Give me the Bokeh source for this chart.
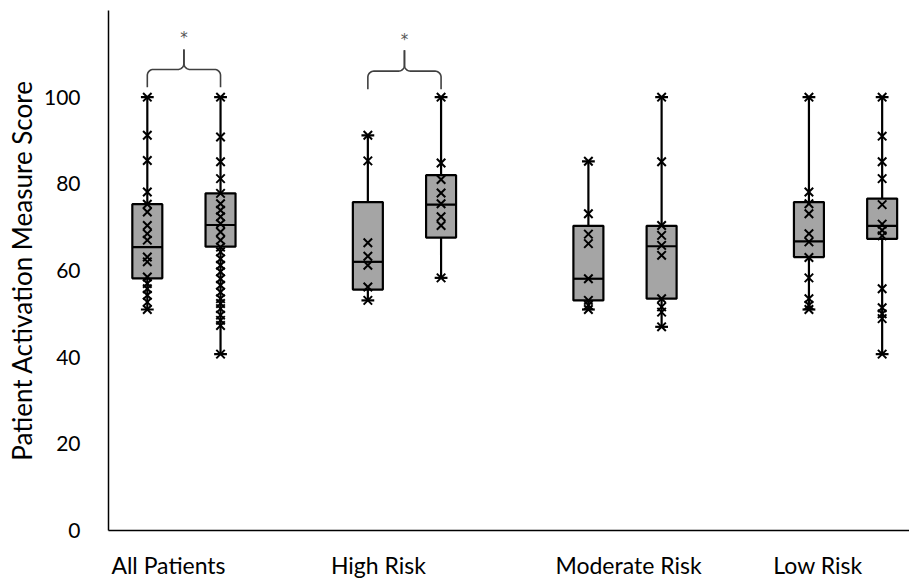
from bokeh.plotting import figure
from bokeh.models import Range1d, FixedTicker
from bokeh.core.properties import value
from bokeh.embed import file_html
from bokeh.resources import INLINE
import numpy as np

# ---------------- data ----------------
categories = ["All Patients", "High Risk", "Moderate Risk", "Low Risk"]
y_ticks = [0, 20, 40, 60, 80, 100]

# eight boxes: (group, side) pairs, two per category
box_group = [0, 0, 1, 1, 2, 2, 3, 3]
box_side = [-1, 1, -1, 1, -1, 1, -1, 1]

box_q1 = [58.2, 65.5, 55.6, 67.6, 53.1, 53.5, 63.1, 67.3]
box_median = [65.4, 70.5, 62.0, 75.2, 58.1, 65.6, 66.7, 70.3]
box_q3 = [75.3, 77.8, 75.8, 82.0, 70.3, 70.3, 75.8, 76.6]
whisker_low = [51.0, 40.7, 53.1, 58.3, 51.0, 47.0, 51.0, 40.7]
whisker_high = [100, 100, 91.2, 100, 85.2, 100, 100, 100]

points_all_a = [100, 91.2, 85.4, 78.1, 75.3, 73.5, 70.4, 68.5, 67.0, 63.1, 62.0,
                58.5, 57.0, 55.8, 54.3, 52.7, 51.0]
points_all_b = [100, 90.8, 85.1, 81.2, 77.8, 75.4, 73.9, 72.4, 70.8, 68.9, 67.0,
                65.4, 64.3, 62.7, 61.2, 59.7, 58.1, 56.6, 55.0, 53.5, 52.4, 51.2,
                49.7, 48.5, 47.3, 40.7]
points_high_a = [91.2, 85.3, 66.4, 63.3, 61.2, 56.2, 53.1]
points_high_b = [100, 84.8, 81.0, 77.9, 75.4, 72.4, 70.4, 58.3]
points_mod_a = [85.2, 73.1, 68.4, 66.2, 58.1, 53.1, 52.0, 51.0]
points_mod_b = [100, 85.1, 70.4, 68.1, 65.8, 63.5, 53.5, 51.6, 50.4, 47.0]
points_low_a = [100, 78.1, 75.4, 73.1, 68.5, 66.6, 63.0, 58.3, 53.5, 52.0, 51.0]
points_low_b = [100, 91.0, 85.1, 81.2, 75.2, 70.7, 69.3, 68.0, 55.8, 51.4, 50.0,
                48.9, 40.7]
box_points = [points_all_a, points_all_b, points_high_a, points_high_b,
              points_mod_a, points_mod_b, points_low_a, points_low_b]

# significance brackets: (left box, right box)
bracket_boxes = [(0, 1), (2, 3)]
bracket_label = "*"

# ---------------- layout constants ----------------
OFFSET = 0.166
BOX_W = 0.136
CAP_W = 0.058
label_pos = [-0.070, 0.882, 2.016, 2.875]
FONT = "Lato"
BOX_FILL = "#a5a5a5"

box_x = [g + s * OFFSET for g, s in zip(box_group, box_side)]

p = figure(width=909, height=581, output_backend="svg", toolbar_location=None,
           x_range=Range1d(-0.342, 3.290), y_range=Range1d(0, 120),
           min_border_left=108, min_border_right=0, min_border_top=10,
           min_border_bottom=51)
p.grid.visible = False
p.outline_line_color = None
p.background_fill_color = "white"
p.border_fill_color = "white"

# whiskers
p.segment(x0=box_x, y0=whisker_low, x1=box_x, y1=whisker_high,
          line_color="black", line_width=2.2)
# caps
for lst in (whisker_low, whisker_high):
    p.segment(x0=[x - CAP_W / 2 for x in box_x], y0=lst,
              x1=[x + CAP_W / 2 for x in box_x], y1=lst,
              line_color="black", line_width=2.2)
# boxes
p.vbar(x=box_x, width=BOX_W, bottom=box_q1, top=box_q3,
       fill_color=BOX_FILL, line_color="black", line_width=2.2)
# medians
p.segment(x0=[x - BOX_W / 2 for x in box_x], y0=box_median,
          x1=[x + BOX_W / 2 for x in box_x], y1=box_median,
          line_color="black", line_width=2.2)
# data points
px, py = [], []
for x, pts in zip(box_x, box_points):
    px += [x] * len(pts)
    py += pts
p.scatter(x=px, y=py, marker="x", size=12, line_color="black", line_width=2)

# brackets
RX = 6 / 220.5
RY = 6 / 4.333
bracket_geom = [(102.3, 106.4, 111.0, 113.6), (101.8, 106.0, 110.8, 113.2)]
for (a, b), (yb, yh, yp, ys) in zip(bracket_boxes, bracket_geom):
    xl, xr = box_x[a], box_x[b]
    xc = (xl + xr) / 2
    t1 = np.linspace(np.pi, np.pi / 2, 10)
    t2 = np.linspace(1.5 * np.pi, 2 * np.pi, 10)
    lx = [xl] + list(xl + RX + RX * np.cos(t1)) + list(xc - RX + RX * np.cos(t2)) + [xc]
    ly = [yb] + list(yh - RY + RY * np.sin(t1)) + list(yh + RY + RY * np.sin(t2)) + [yp]
    p.line(lx, ly, line_color="#404040", line_width=1.6)
    xr_line = [xr] + list(xr - RX - RX * np.cos(t1)) + list(xc + RX - RX * np.cos(t2)) + [xc]
    p.line(xr_line, ly, line_color="#404040", line_width=1.6)
    p.text(x=[xc], y=[ys], text=[bracket_label], text_color="#555555",
           text_font=value("DejaVu Sans"), text_font_size="15px",
           text_align="center", text_baseline="middle")

# axes
p.xaxis.ticker = FixedTicker(ticks=label_pos)
p.xaxis.major_label_overrides = {pos: c for pos, c in zip(label_pos, categories)}
p.xaxis.major_tick_line_color = None
p.xaxis.minor_tick_line_color = None
p.xaxis.axis_line_color = "black"
p.xaxis.axis_line_width = 1.5
p.xaxis.major_label_text_font = FONT
p.xaxis.major_label_text_font_size = "23px"
p.xaxis.major_label_text_color = "black"
p.xaxis.major_label_standoff = 14

p.yaxis.ticker = FixedTicker(ticks=y_ticks)
p.yaxis.major_tick_line_color = None
p.yaxis.minor_tick_line_color = None
p.yaxis.axis_line_color = "black"
p.yaxis.axis_line_width = 1.5
p.yaxis.major_label_text_font = FONT
p.yaxis.major_label_text_font_size = "21px"
p.yaxis.major_label_text_color = "black"
p.yaxis.major_label_standoff = 22
p.yaxis.axis_label = "Patient Activation Measure Score"
p.yaxis.axis_label_text_font = FONT
p.yaxis.axis_label_text_font_size = "26px"
p.yaxis.axis_label_text_font_style = "normal"
p.yaxis.axis_label_text_color = "black"
p.yaxis.axis_label_standoff = 3

open("out.html", "w").write(file_html(p, INLINE))
